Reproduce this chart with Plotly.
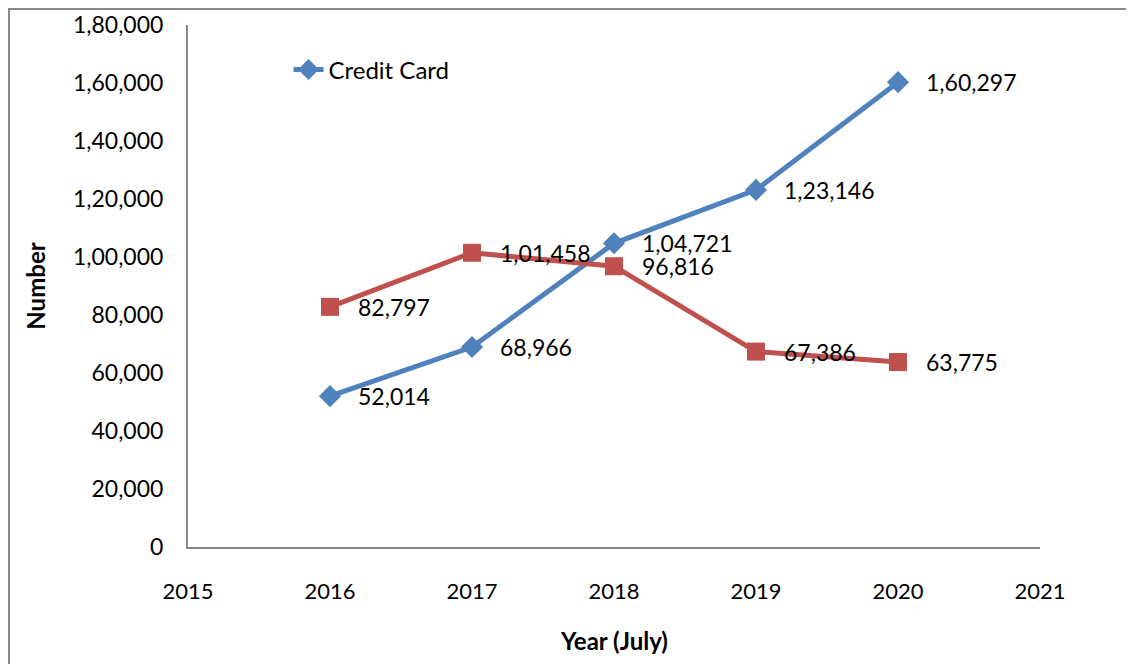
import plotly.graph_objects as go

years = [2016, 2017, 2018, 2019, 2020]
credit_card = [52014, 68966, 104721, 123146, 160297]
debit_card = [82797, 101458, 96816, 67386, 63775]

y_ticks = [0, 20000, 40000, 60000, 80000, 100000, 120000, 140000, 160000, 180000]
y_tick_text = ["0", "20,000", "40,000", "60,000", "80,000", "1,00,000",
               "1,20,000", "1,40,000", "1,60,000", "1,80,000"]
x_ticks = [2015, 2016, 2017, 2018, 2019, 2020, 2021]


def indian_fmt(n):
    s = str(n)
    if len(s) <= 3:
        return s
    head, tail = s[:-3], s[-3:]
    parts = []
    while len(head) > 2:
        parts.insert(0, head[-2:])
        head = head[:-2]
    if head:
        parts.insert(0, head)
    return ",".join(parts) + "," + tail


FONT = "Lato"
BLUE = "#4F81BD"
RED = "#C0504D"

fig = go.Figure()

fig.add_trace(go.Scatter(
    x=years, y=credit_card, mode="lines+markers", name="Credit Card",
    line=dict(color=BLUE, width=5),
    marker=dict(symbol="diamond", size=17, color=BLUE),
))
fig.add_trace(go.Scatter(
    x=years, y=debit_card, mode="lines+markers", name="Debit Card",
    line=dict(color=RED, width=5),
    marker=dict(symbol="square", size=18, color=RED),
    showlegend=False,
))

# data labels to the right of each point
for xs, ys in [(years, credit_card), (years, debit_card)]:
    for x, y in zip(xs, ys):
        fig.add_annotation(
            x=x, y=y, text=indian_fmt(y), showarrow=False,
            xanchor="left", yanchor="middle", xshift=26,
            font=dict(family=FONT, size=23, color="black"),
        )

# axis titles
fig.add_annotation(
    x=-0.18, y=0.5, xref="paper", yref="paper", text="<b>Number</b>",
    textangle=-90, showarrow=False, xanchor="center", yanchor="middle",
    font=dict(family=FONT, size=24, color="black"),
)
fig.add_annotation(
    x=0.5, y=-0.18, xref="paper", yref="paper", text="<b>Year (July)</b>",
    showarrow=False, xanchor="center", yanchor="middle",
    font=dict(family=FONT, size=24, color="black"),
)

# outer chart border (page body adds an 8px offset)
fig.add_shape(
    type="rect", xref="paper", yref="paper",
    x0=-0.2101, x1=1.3, y0=-0.4, y1=1.0307,
    line=dict(color="#888888", width=2), fillcolor="rgba(0,0,0,0)",
)

fig.update_xaxes(
    range=[2015, 2021], tickvals=x_ticks, showgrid=False, zeroline=False,
    showline=True, linecolor="#888888", linewidth=2, ticks="",
    ticklabelstandoff=24, automargin=False,
    tickfont=dict(family=FONT, size=22, color="black"),
)
fig.update_yaxes(
    range=[0, 180000], tickvals=y_ticks, ticktext=y_tick_text,
    showgrid=False, zeroline=False,
    showline=True, linecolor="#888888", linewidth=2, ticks="",
    ticklabelstandoff=18, automargin=False,
    tickfont=dict(family=FONT, size=23, color="black"),
)

fig.update_layout(
    width=1134, height=664,
    margin=dict(l=180, r=102, t=17, b=125),
    paper_bgcolor="white", plot_bgcolor="white",
    font=dict(family=FONT, color="black"),
    legend=dict(
        x=0.118, y=0.914, xanchor="left", yanchor="middle",
        bgcolor="rgba(0,0,0,0)", font=dict(family=FONT, size=24, color="black"),
    ),
)

fig.write_html("out.html")
